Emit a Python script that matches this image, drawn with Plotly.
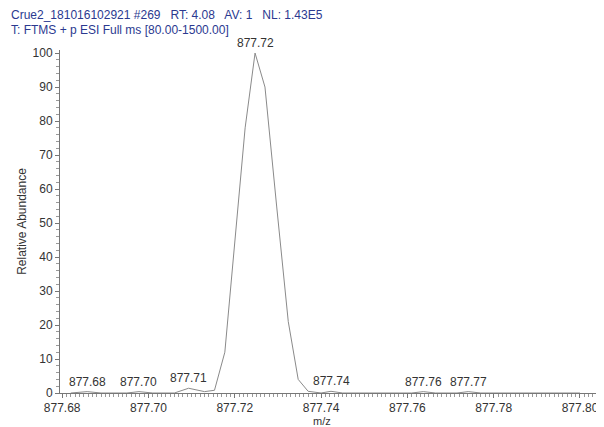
import plotly.graph_objects as go

# profile spectrum data (m/z, relative abundance)
mz = [877.6820, 877.6858, 877.6890, 877.6950, 877.6978, 877.7010, 877.7060, 877.7093, 877.7130,
      877.7153, 877.7177, 877.7201, 877.7224, 877.7247, 877.7270, 877.7297, 877.7324, 877.7347,
      877.7370, 877.7400, 877.7423, 877.7450, 877.7610, 877.7637, 877.7665, 877.7715, 877.7741,
      877.7770, 877.8000]
ab = [0.0, 0.4, 0.0, 0.0, 0.4, 0.0, 0.0, 1.4, 0.4,
      0.8, 12.0, 45.0, 78.0, 100.0, 90.0, 55.0, 21.0, 4.0,
      0.5, 0.0, 0.5, 0.0, 0.0, 0.4, 0.0, 0.0, 0.4,
      0.0, 0.0]

label_mz = [877.6858, 877.6978, 877.7093, 877.7247, 877.7423, 877.7637, 877.7741]
label_ab = [0.4, 0.4, 1.4, 100.0, 0.5, 0.4, 0.4]
label_txt = ["877.68", "877.70", "877.71", "877.72", "877.74", "877.76", "877.77"]

x_ticks = [877.68, 877.70, 877.72, 877.74, 877.76, 877.78, 877.80]
x_tick_text = ["877.68", "877.70", "877.72", "877.74", "877.76", "877.78", "877.80"]
y_ticks = [0, 10, 20, 30, 40, 50, 60, 70, 80, 90, 100]

title_lines = ["Crue2_181016102921 #269   RT: 4.08   AV: 1   NL: 1.43E5",
               "T: FTMS + p ESI Full ms [80.00-1500.00]"]

FONT = "Liberation Sans, Arial, sans-serif"
# page body has an 8px margin, so the figure is laid out 8px smaller
W, H = 596, 419
L, R, T, B = 52, 2, 42, 34
pw, ph = W - L - R, H - T - B

fig = go.Figure()
fig.add_trace(go.Scatter(x=mz, y=ab, mode="lines",
                         line=dict(color="#8a8a8a", width=1), hoverinfo="x+y"))

for xm, ya, t in zip(label_mz, label_ab, label_txt):
    fig.add_annotation(x=xm, y=ya, text=t, showarrow=False, yanchor="bottom",
                       yshift=1, font=dict(size=12, color="#333333", family=FONT))

for i, line in enumerate(title_lines):
    fig.add_annotation(xref="paper", yref="paper",
                       x=(2 - L) / pw, y=(H - B - (7 + 15 * i)) / ph,
                       xanchor="left", yanchor="middle", showarrow=False, borderpad=0,
                       text=line, font=dict(size=12, color="#2b3990", family=FONT))

fig.add_annotation(xref="paper", yref="paper", x=(314 - L) / pw, y=(H - B - 413) / ph,
                   xanchor="center", yanchor="middle", showarrow=False, borderpad=0,
                   text="m/z", font=dict(size=11, color="#333333", family=FONT))

fig.update_layout(
    width=W, height=H,
    margin=dict(l=L, r=R, t=T, b=B),
    paper_bgcolor="white", plot_bgcolor="white",
    showlegend=False,
    font=dict(family=FONT, size=12, color="#333333"),
)
fig.update_xaxes(range=[877.6795, 877.8051], tickmode="array", tickvals=x_ticks,
                 ticktext=x_tick_text, showgrid=False, zeroline=False, automargin=False,
                 showline=True, linecolor="#777777", linewidth=1,
                 ticks="outside", ticklen=4, tickcolor="#777777",
                 minor=dict(dtick=0.001, tick0=877.68, ticks="outside", ticklen=3, tickcolor="#999999"))
fig.update_yaxes(range=[0, 100.9], tickmode="array", tickvals=y_ticks,
                 showgrid=False, zeroline=False, automargin=False,
                 showline=True, linecolor="#777777", linewidth=1,
                 ticks="outside", ticklen=4, tickcolor="#777777",
                 minor=dict(dtick=2, tick0=0, ticks="outside", ticklen=3, tickcolor="#999999"),
                 title=dict(text="Relative Abundance", font=dict(size=12), standoff=3))

fig.write_html("out.html")
